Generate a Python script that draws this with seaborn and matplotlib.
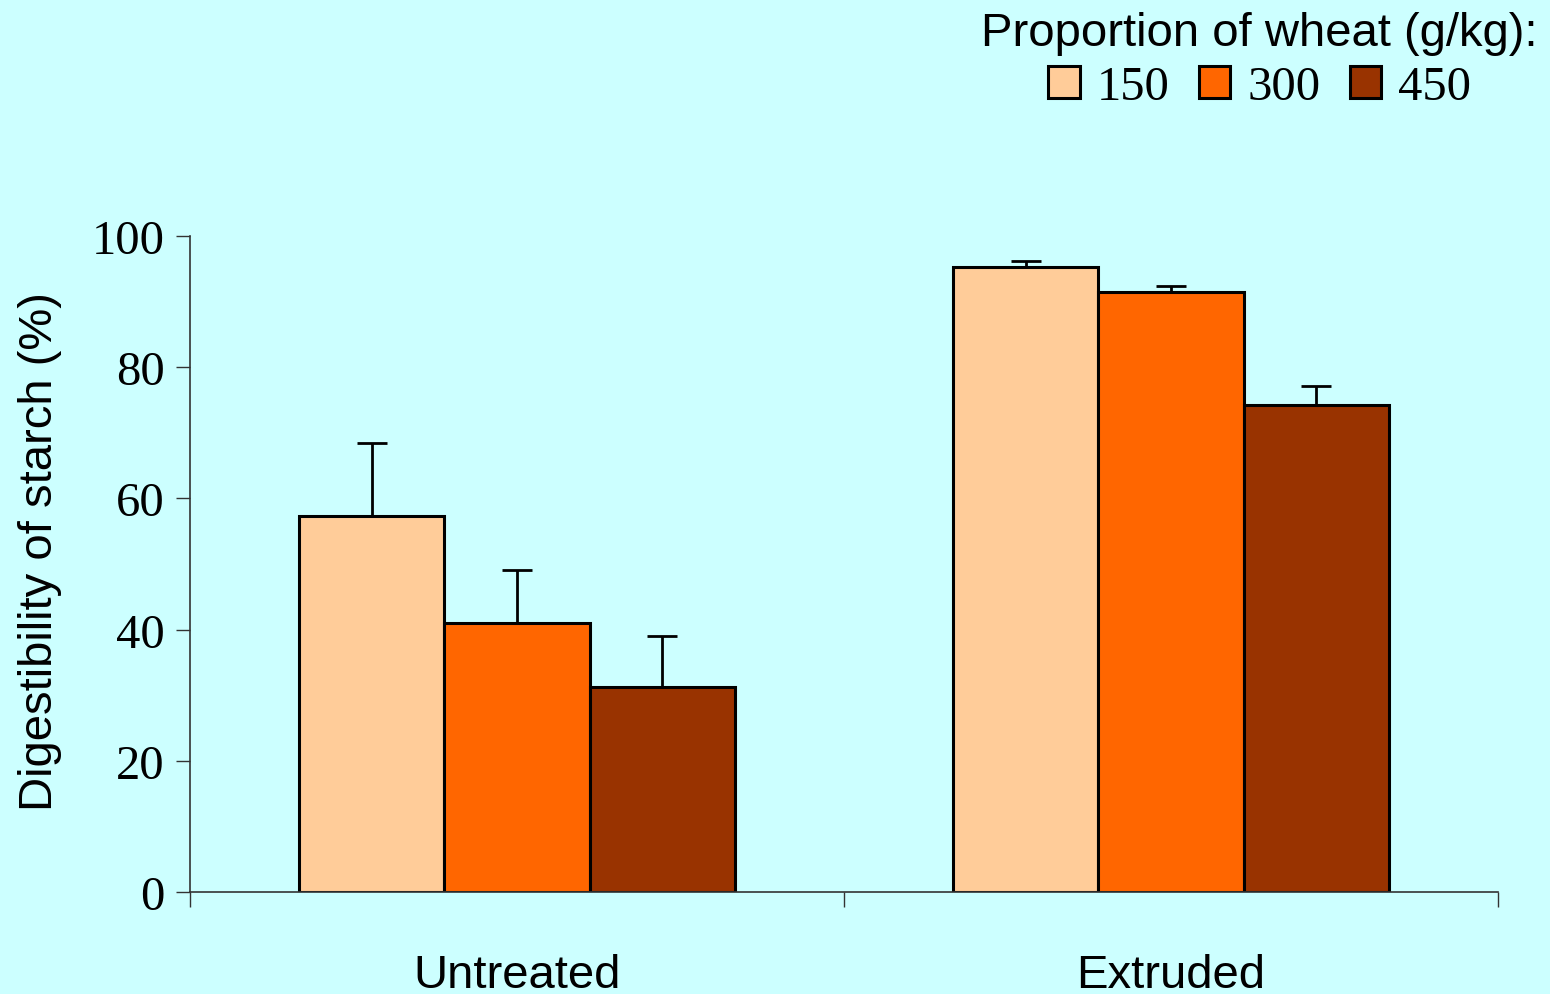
import matplotlib
matplotlib.use("Agg")
import matplotlib.pyplot as plt
import seaborn as sns
import pandas as pd
import numpy as np

treatments = ["Untreated", "Extruded"]
wheat = ["150", "300", "450"]
means = {
    "Untreated": [57.3, 41.0, 31.2],
    "Extruded": [95.3, 91.5, 74.2],
}
errors = {
    "Untreated": [11.1, 8.1, 7.8],
    "Extruded": [0.9, 0.9, 2.9],
}
colors = ["#FFCC99", "#FF6600", "#993300"]
yticks = [0, 20, 40, 60, 80, 100]

rows = []
for t in treatments:
    for w, m, e in zip(wheat, means[t], errors[t]):
        rows.append({"Treatment": t, "Wheat": w, "Mean": m, "Err": e})
df = pd.DataFrame(rows)

sns.set_style("white")
plt.rcParams["text.color"] = "black"
plt.rcParams["axes.labelcolor"] = "black"
plt.rcParams["xtick.color"] = "black"
plt.rcParams["ytick.color"] = "black"
bg = "#CCFFFF"
fig = plt.figure(figsize=(15.5, 9.95), dpi=100, facecolor=bg)
ax = fig.add_axes([190/1550, 1-893/995, (1498-190)/1550, (893-237)/995])
ax.set_facecolor(bg)

sns.barplot(data=df, x="Treatment", y="Mean", hue="Wheat", order=treatments,
            hue_order=wheat, palette=colors, width=0.667, errorbar=None,
            edgecolor="black", linewidth=2.2, ax=ax, saturation=1)

# error bars from bar patches
bars = [p for p in ax.patches if p.get_height() > 0]
for p in bars:
    cx = p.get_x() + p.get_width() / 2
    h = p.get_height()
    match = df.loc[np.isclose(df["Mean"], h)]
    e = match["Err"].iloc[0]
    ax.errorbar(cx, h, yerr=[[0], [e]], fmt="none", ecolor="black",
                elinewidth=2.0, capsize=11, capthick=2.0, zorder=5)

handles, labels = ax.get_legend_handles_labels()
ax.get_legend().remove()

ax.set_xlim(-0.5, 1.5)
ax.set_ylim(0, 100)
ax.set_yticks(yticks)
ax.set_yticklabels([str(v) for v in yticks], fontfamily="Liberation Serif", fontsize=35, color="black")
ax.set_xticks([0, 1])
ax.set_xticklabels(treatments, fontfamily="Liberation Sans", fontsize=34, color="black")
ax.set_xticks([-0.5, 0.5, 1.5], minor=True)
ax.tick_params(axis="x", which="major", length=0, pad=44, bottom=True)
ax.tick_params(axis="x", which="minor", length=11, width=1, direction="out",
               color="#333333", bottom=True)
ax.tick_params(axis="y", which="major", length=10, width=1, direction="out",
               color="#333333", pad=8, left=True)
ax.set_xlabel("")
ax.set_ylabel("Digestibility of starch (%)", fontfamily="Liberation Sans", fontsize=34,
              color="black")
ax.yaxis.set_label_coords(-0.098, 0.521)

for s in ["top", "right"]:
    ax.spines[s].set_visible(False)
for s in ["left", "bottom"]:
    ax.spines[s].set_color("#333333")
    ax.spines[s].set_linewidth(1.2)

leg = fig.legend(handles, labels, loc="upper right", bbox_to_anchor=(1.0, 1.0),
                 ncol=3, frameon=False, title="Proportion of wheat (g/kg):",
                 prop={"family": "Liberation Serif", "size": 35},
                 handlelength=0.65, handleheight=0.65, handletextpad=0.35,
                 columnspacing=0.6, borderpad=0.0, borderaxespad=0.25,
                 labelspacing=0.2)
leg.get_title().set_fontfamily("Liberation Sans")
leg.get_title().set_fontsize(34)
leg.get_title().set_color("black")
for t in leg.get_texts():
    t.set_color("black")

fig.savefig("out.png", dpi=100, facecolor=bg)
